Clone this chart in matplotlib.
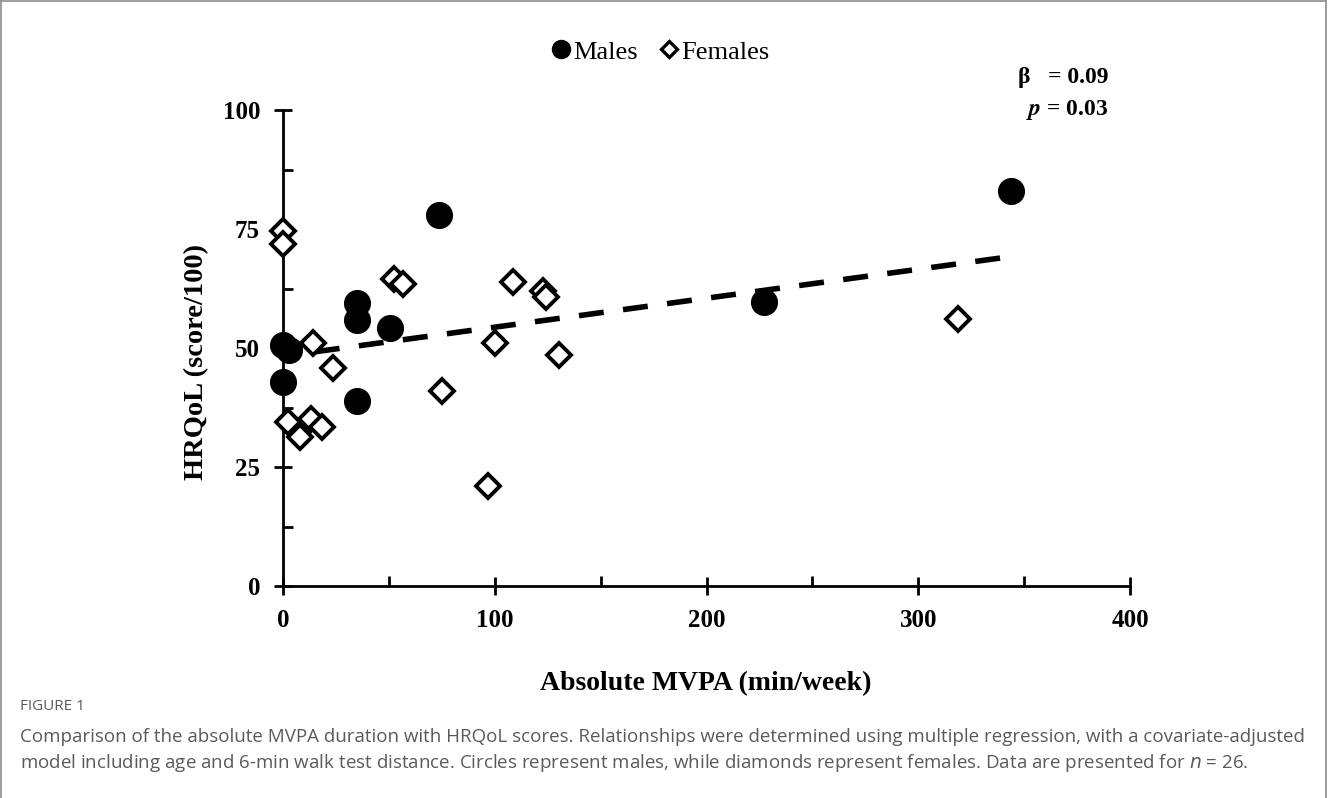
import matplotlib
matplotlib.use("Agg")
import matplotlib.pyplot as plt
from matplotlib.lines import Line2D
from matplotlib.ticker import MultipleLocator

# data
males_mvpa = [73.6, 35, 35, 50.5, 0, 3, 0, 35, 227, 344]
males_hrqol = [77.9, 59.5, 55.9, 54.1, 50.6, 49.6, 42.9, 38.9, 59.7, 83.0]
females_mvpa = [0, 0, 52.4, 56.8, 108.6, 123, 124.4, 14, 100, 130.2,
                23.4, 75.3, 2.5, 13.2, 18.2, 8, 97, 319]
females_hrqol = [74.6, 71.8, 64.6, 63.4, 63.9, 62.0, 60.8, 51.0, 51.0, 48.5,
                 45.9, 41.0, 34.4, 35.1, 33.3, 31.4, 21.0, 56.0]
fit_x = [15, 342]
fit_y = [49.2, 69.1]
x_ticks = [0, 100, 200, 300, 400]
y_ticks = [0, 25, 50, 75, 100]

W, H = 1328, 798
SERIF = "Liberation Serif"

fig = plt.figure(figsize=(W / 100, H / 100), dpi=100, facecolor="white")
ax = fig.add_axes([283 / W, 1 - 586 / H, (1130 - 283) / W, (586 - 110) / H])

ax.plot(fit_x, fit_y, "--", color="black", lw=4, dashes=(4.5, 3.5), zorder=2)
ax.plot(males_mvpa, males_hrqol, "o", ms=18.5, mfc="black", mec="black",
        lw=0, zorder=3, clip_on=False)
ax.plot(females_mvpa, females_hrqol, "D", ms=12.5, mfc="white", mec="black",
        mew=2.8, lw=0, zorder=4, clip_on=False)

ax.set_xlim(0, 400)
ax.set_ylim(0, 100)
for s in ("top", "right"):
    ax.spines[s].set_visible(False)
for s in ("left", "bottom"):
    ax.spines[s].set_linewidth(2)
ax.set_xticks(x_ticks)
ax.set_yticks(y_ticks)
ax.xaxis.set_minor_locator(MultipleLocator(50))
ax.yaxis.set_minor_locator(MultipleLocator(12.5))
ax.tick_params(which="major", direction="inout", length=13, width=2,
               labelsize=18, pad=10)
ax.tick_params(which="minor", direction="in", length=7, width=2)
for lab in ax.get_xticklabels() + ax.get_yticklabels():
    lab.set_fontfamily(SERIF)
    lab.set_fontweight("bold")

fig.text(706 / W, 1 - 684 / H, "Absolute MVPA (min/week)", family=SERIF,
         weight="bold", fontsize=20, ha="center", va="center")
fig.text(197 / W, 1 - 362 / H, "HRQoL (score/100)", family=SERIF,
         weight="bold", fontsize=20.5, ha="center", va="center", rotation=90)

# legend on top
handles = [
    Line2D([], [], ls="none", marker="o", ms=13, mfc="black", mec="black"),
    Line2D([], [], ls="none", marker="D", ms=8, mfc="white", mec="black", mew=2.4),
]
fig.legend(handles, ["Males", "Females"], loc="center",
           bbox_to_anchor=(660 / W, 1 - 52 / H), ncol=2, frameon=False,
           prop={"family": SERIF, "size": 19}, handlelength=0.8,
           handletextpad=0.05, columnspacing=0.8)

fig.text(1108 / W, 1 - 78 / H, "β   = 0.09", family=SERIF, weight="bold",
         fontsize=17, ha="right", va="center")
fig.text(1108 / W, 1 - 110 / H, r"$\mathbfit{p}$ = 0.03", family=SERIF,
         weight="bold", fontsize=17, ha="right", va="center",
         math_fontfamily="stix")

# caption
grey = "#5a5a5a"
fig.text(20 / W, 1 - 706 / H, "FIGURE 1", family="Open Sans", fontsize=11,
         color=grey, ha="left", va="center")
fig.text(20 / W, 1 - 737 / H,
         "Comparison of the absolute MVPA duration with HRQoL scores. "
         "Relationships were determined using multiple regression, with a "
         "covariate-adjusted", family="Open Sans", fontsize=13.5, color=grey,
         ha="left", va="center")
fig.text(20 / W, 1 - 763 / H,
         "model including age and 6-min walk test distance. Circles represent "
         "males, while diamonds represent females. Data are presented for "
         r"$\it{n}$ = 26.", family="Open Sans", fontsize=13.5, color=grey,
         ha="left", va="center", math_fontfamily="dejavusans")

# page frame (open at the bottom)
for xs, ys in (([1, 1], [0, H - 1]), ([W - 2, W - 2], [0, H - 1]),
               ([1, W - 2], [H - 1, H - 1])):
    fig.add_artist(Line2D([x / W for x in xs], [y / H for y in ys],
                          color="#8c8c8c", lw=1.2))

fig.savefig("out.png", dpi=100, facecolor="white")
